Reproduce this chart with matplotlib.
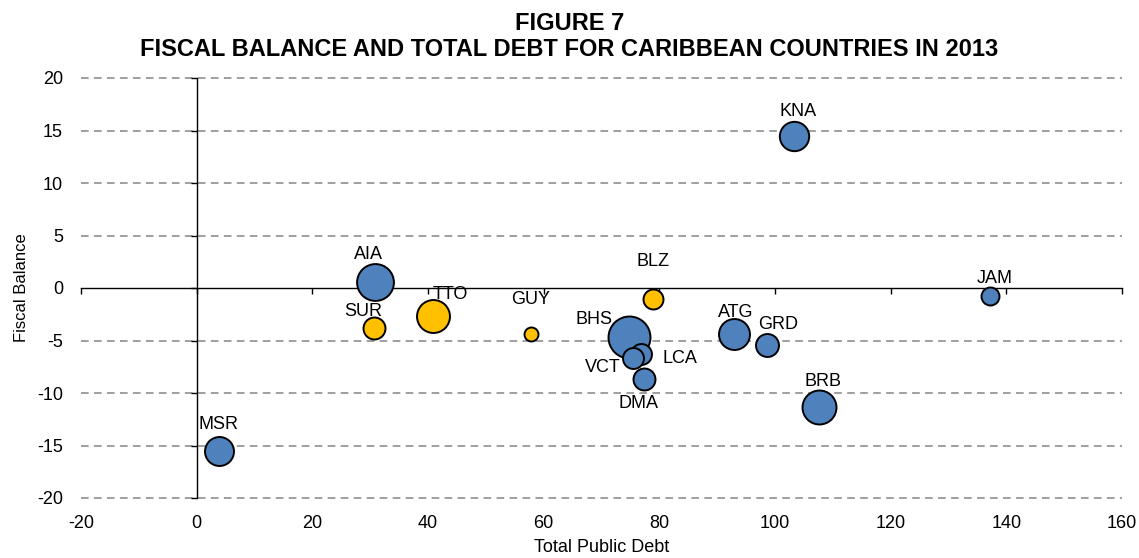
import matplotlib
matplotlib.use('Agg')
import matplotlib.pyplot as plt

plt.rcParams['font.family'] = ['Liberation Sans', 'DejaVu Sans']

# ---- data ----
countries = ['MSR', 'AIA', 'SUR', 'TTO', 'GUY', 'BHS', 'BLZ', 'LCA', 'VCT', 'DMA',
             'KNA', 'JAM', 'ATG', 'GRD', 'BRB']
total_debt = [3.8, 30.8, 30.6, 40.8, 57.8, 74.7, 78.9, 76.8, 75.4, 77.3,
              103.3, 137.2, 92.9, 98.6, 107.6]
fiscal_balance = [-15.5, 0.6, -3.8, -2.65, -4.4, -4.67, -1.05, -6.3, -6.67, -8.7,
                  14.5, -0.76, -4.4, -5.4, -11.3]
bubble_size = [210, 340, 121, 272, 49, 441, 100, 110, 110, 121,
               216, 81, 240, 132, 289]
group = ['service', 'service', 'commodity', 'commodity', 'commodity', 'service',
         'commodity', 'service', 'service', 'service', 'service', 'service',
         'service', 'service', 'service']

x_ticks = [-20, 0, 20, 40, 60, 80, 100, 120, 140, 160]
y_ticks = [-20, -15, -10, -5, 0, 5, 10, 15, 20]

title_lines = ['FIGURE 7', 'FISCAL BALANCE AND TOTAL DEBT FOR CARIBBEAN COUNTRIES IN 2013']
x_label = 'Total Public Debt'
y_label = 'Fiscal Balance'

# ---- style / layout ----
group_colors = {'service': '#4F81BD', 'commodity': '#FFC000'}
# label offsets in pixels (dx, dy) relative to bubble centre
label_offsets = {
    'MSR': (0, 26), 'AIA': (-6, 27), 'SUR': (-10, 16), 'TTO': (18, 21),
    'GUY': (0, 35), 'BHS': (-35, 18), 'BLZ': (0, 38), 'VCT': (-30, -9),
    'LCA': (39, -4), 'DMA': (-5, -24), 'KNA': (4, 24), 'JAM': (5, 17),
    'ATG': (2, 22), 'GRD': (11, 20), 'BRB': (4, 25),
}

W, H, DPI = 1139, 558, 100
fig = plt.figure(figsize=(W / DPI, H / DPI), dpi=DPI)
ax = fig.add_axes([81 / W, 1 - 498 / H, (1122 - 81) / W, (498 - 78) / H])

ax.set_xlim(x_ticks[0], x_ticks[-1])
ax.set_ylim(y_ticks[0], y_ticks[-1])

# grid
for yv in y_ticks:
    if yv != 0:
        ax.axhline(yv, color='#858585', lw=1.1, ls=(0, (5, 3.5)), zorder=1,
                   clip_on=False)

# axes lines crossing at origin
ax.axhline(0, color='black', lw=1.0, zorder=2, clip_on=False)
ax.axvline(0, color='black', lw=1.0, zorder=2, clip_on=False)
ax.plot(x_ticks, [0] * len(x_ticks), ls='none', marker=3, ms=4, mew=1.0,
        color='black', zorder=2, clip_on=False)
ax.plot([0] * len(y_ticks), y_ticks, ls='none', marker=0, ms=4, mew=1.0,
        color='black', zorder=2, clip_on=False)

for s in ax.spines.values():
    s.set_visible(False)

ax.set_xticks(x_ticks)
ax.set_yticks(y_ticks)
ax.set_xticklabels([str(v) for v in x_ticks])
ax.set_yticklabels([str(v) for v in y_ticks])
ax.tick_params(length=0, labelsize=13, labelcolor='black')
ax.tick_params(axis='x', pad=12)
ax.tick_params(axis='y', pad=13)

ax.set_xlabel(x_label, fontsize=13, labelpad=5)
ax.set_ylabel(y_label, fontsize=12, labelpad=6)

# bubbles
for i, c in enumerate(countries):
    s = bubble_size[i] * 2.07
    ax.scatter(total_debt[i], fiscal_balance[i], s=s,
               color=group_colors[group[i]], edgecolor='black', linewidth=1.4,
               zorder=3 + i * 0.01)
    dx, dy = label_offsets[c]
    ax.annotate(c, (total_debt[i], fiscal_balance[i]),
                xytext=(dx * 0.72, dy * 0.72), textcoords='offset points',
                ha='center', va='center', fontsize=13, zorder=5)

fig.text(0.5, 1 - 23.5 / H, title_lines[0], ha='center', va='center',
         fontsize=17, fontweight='bold')
fig.text(0.5, 1 - 49.5 / H, title_lines[1], ha='center', va='center',
         fontsize=17, fontweight='bold')

fig.savefig('out.png', dpi=DPI)
